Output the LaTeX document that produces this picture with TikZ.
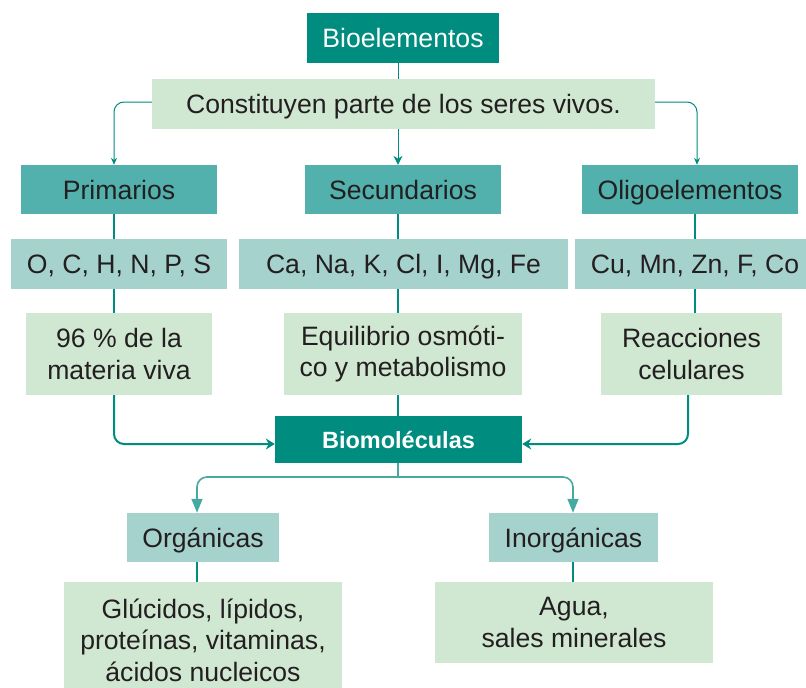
\documentclass[tikz,border=0pt]{standalone}
\usepackage{fontspec}
\setmainfont{Liberation Sans}
\usetikzlibrary{arrows.meta}
\definecolor{cdark}{RGB}{0,140,126}
\definecolor{cmid}{RGB}{82,177,172}
\definecolor{clblue}{RGB}{166,210,206}
\definecolor{clgreen}{RGB}{208,232,210}
\definecolor{ctext}{RGB}{35,31,32}
\definecolor{cline}{RGB}{0,140,126}
\definecolor{clineb}{RGB}{70,170,162}
\tikzset{
  box/.style={inner sep=0pt, align=center, font=\fontsize{26.6}{31.5}\selectfont, text=ctext},
  oneline/.style={text height=19pt, text depth=0pt},
  darkbox/.style={box, fill=cdark, text=white},
  midbox/.style={box, fill=cmid},
  bluebox/.style={box, fill=clblue},
  greenbox/.style={box, fill=clgreen},
  conn/.style={draw=cline, line width=1pt},
  thick conn/.style={draw=cline, line width=2pt, rounded corners=10pt},
  branch/.style={draw=clineb, line width=1.6pt, rounded corners=10pt},
}
\begin{document}
\begin{tikzpicture}[x=1pt,y=-1pt]
\useasboundingbox (0,0) rectangle (806,688);
\clip (0,0) rectangle (806,688);
% columns and rows
\coordinate (xL) at (114,0);
\coordinate (xM) at (398,0);
\coordinate (xR) at (695,0);
\coordinate (xRt) at (697,0);
\coordinate (xRb) at (688,0);
\coordinate (xO) at (197,0);
\coordinate (xI) at (573,0);
\coordinate (yT) at (0,102);
\coordinate (yB) at (0,444);
\coordinate (yS) at (0,477);
% nodes
\node[darkbox, oneline, minimum width=192pt, minimum height=50pt] (bio) at (403,38) {Bioelementos};
\node[greenbox, oneline, minimum width=503pt, minimum height=50pt] (const) at (403.5,104) {Constituyen parte de los seres vivos.};
\node[midbox, oneline, minimum width=196pt, minimum height=49pt] (prim) at (119,189.5) {Primarios};
\node[midbox, oneline, minimum width=196pt, minimum height=49pt] (sec) at (403,189.5) {Secundarios};
\node[midbox, oneline, minimum width=216pt, minimum height=49pt] (oligo) at (690,189.5) {Oligoelementos};
\node[bluebox, oneline, minimum width=216pt, minimum height=50pt] (ochn) at (119,264) {O, C, H, N, P, S};
\node[bluebox, oneline, minimum width=329pt, minimum height=50pt] (cana) at (403.5,264) {Ca, Na, K, Cl, I, Mg, Fe};
\node[bluebox, oneline, minimum width=240pt, minimum height=50pt] (cumn) at (695,264) {Cu, Mn, Zn, F, Co};
\node[greenbox, minimum width=186pt, minimum height=82pt] (p96) at (119,354) {96 \% de la\\materia viva};
\node[greenbox, minimum width=238pt, minimum height=82pt] (equi) at (403,354) {Equilibrio osmóti-\\co y metabolismo};
\node[greenbox, minimum width=181pt, minimum height=82pt] (reac) at (691.5,354) {Reacciones\\celulares};
\node[darkbox, font=\fontsize{23.5}{28}\selectfont\bfseries, text height=17pt, text depth=0pt, minimum width=247pt, minimum height=47pt] (biom) at (398.5,439.5) {Biomoléculas};
\node[bluebox, oneline, minimum width=152pt, minimum height=49pt] (org) at (203,537.5) {Orgánicas};
\node[bluebox, oneline, minimum width=169pt, minimum height=49pt] (inorg) at (573.5,537.5) {Inorgánicas};
\node[greenbox, minimum width=278pt, minimum height=116pt] (gluc) at (203,640) {Glúcidos, lípidos,\\proteínas, vitaminas,\\ácidos nucleicos};
\node[greenbox, minimum width=278pt, minimum height=81pt] (agua) at (574,622.5) {Agua,\\sales minerales};
% connectors top
\draw[conn] (bio.south -| xM) -- (const.north -| xM);
\draw[conn, rounded corners=10pt, -{Stealth[length=7pt,width=6pt]}] (const.west |- yT) -- (xL |- yT) -- (prim.north -| xL);
\draw[conn, rounded corners=10pt, -{Stealth[length=7pt,width=6pt]}] (const.east |- yT) -- (xRt |- yT) -- (oligo.north -| xRt);
\draw[conn, -{Stealth[length=9pt,width=9pt]}] (const.south -| xM) -- (sec.north -| xM);
% columns
\draw[conn, line width=1.2pt] (prim.south -| xL) -- (ochn.north -| xL);
\draw[conn, line width=1.2pt] (ochn.south -| xL) -- (p96.north -| xL);
\draw[conn, line width=1.2pt] (sec.south -| xM) -- (cana.north -| xM);
\draw[conn, line width=1.2pt] (cana.south -| xM) -- (equi.north -| xM);
\draw[conn, line width=1.2pt] (oligo.south -| xR) -- (cumn.north -| xR);
\draw[conn, line width=1.2pt] (cumn.south -| xR) -- (reac.north -| xR);
% to Biomoléculas
\draw[thick conn, -{Stealth[length=9pt,width=11pt]}] (p96.south -| xL) -- (xL |- yB) -- (biom.west |- yB);
\draw[thick conn, -{Stealth[length=9pt,width=11pt]}] (reac.south -| xRb) -- (xRb |- yB) -- (biom.east |- yB);
\draw[conn, line width=1.2pt] (equi.south -| xM) -- (biom.north -| xM);
% branches
\draw[branch] (biom.south -| xM) -- (xM |- yS);
\draw[branch, -{Triangle[length=14pt,width=11pt]}] (xM |- yS) -- (xO |- yS) -- (org.north -| xO);
\draw[branch, -{Triangle[length=14pt,width=11pt]}] (xM |- yS) -- (xI |- yS) -- (inorg.north -| xI);
\draw[conn, line width=1.2pt] (org.south -| xO) -- (gluc.north -| xO);
\draw[conn, line width=1.2pt] (inorg.south -| xI) -- (agua.north -| xI);
\end{tikzpicture}
\end{document}
